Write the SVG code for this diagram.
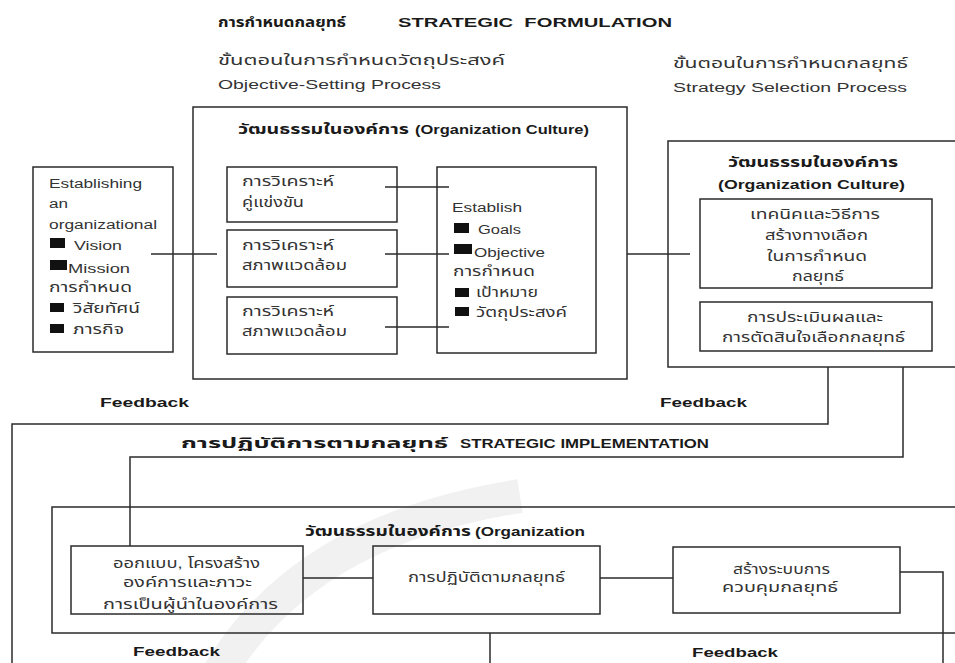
<svg xmlns="http://www.w3.org/2000/svg" width="955" height="663" viewBox="0 0 955 663">
<style>
.bx{fill:none;stroke:#2b2b2b;stroke-width:1.5}
.ln{fill:none;stroke:#2b2b2b;stroke-width:1.5}
.sq{fill:#111}
.t{font-family:"Liberation Sans","Noto Sans Thai","Noto Sans","DejaVu Sans",sans-serif;font-size:13.5px;fill:#333}
.l{font-size:12.5px}
.b{font-weight:bold;fill:#1a1a1a}
.wm{fill:none;stroke:#f1f1f1;stroke-width:34}
</style>
<rect width="955" height="663" fill="#fff"/>
<path class="wm" d="M215 680 Q 300 530 520 496"/>

<g id="headings">
<text class="t b" x="218" y="27" textLength="128" lengthAdjust="spacingAndGlyphs">การกำหนดกลยุทธ์</text>
<text class="t b l" x="398" y="27" textLength="274" lengthAdjust="spacingAndGlyphs" xml:space="preserve">STRATEGIC  FORMULATION</text>
<text class="t" x="218" y="65" textLength="287" lengthAdjust="spacingAndGlyphs">ขั้นตอนในการกำหนดวัตถุประสงค์</text>
<text class="t l" x="218" y="89" textLength="223" lengthAdjust="spacingAndGlyphs">Objective-Setting Process</text>
<text class="t" x="673" y="68" textLength="235" lengthAdjust="spacingAndGlyphs">ขั้นตอนในการกำหนดกลยุทธ์</text>
<text class="t l" x="673" y="92" textLength="234" lengthAdjust="spacingAndGlyphs">Strategy Selection Process</text>
</g>

<g id="vision-box">
<rect class="bx" x="33" y="167" width="140" height="185"/>
<text class="t l" x="49" y="187.5" textLength="93" lengthAdjust="spacingAndGlyphs">Establishing</text>
<text class="t l" x="49" y="208" textLength="19" lengthAdjust="spacingAndGlyphs">an</text>
<text class="t l" x="49" y="229" textLength="108" lengthAdjust="spacingAndGlyphs">organizational</text>
<rect class="sq" x="50" y="238" width="15" height="10"/>
<text class="t l" x="74" y="250" textLength="48" lengthAdjust="spacingAndGlyphs">Vision</text>
<rect class="sq" x="50" y="260" width="17" height="10"/>
<text class="t l" x="68" y="273" textLength="62" lengthAdjust="spacingAndGlyphs">Mission</text>
<text class="t" x="49" y="292" textLength="83" lengthAdjust="spacingAndGlyphs">การกำหนด</text>
<rect class="sq" x="50" y="303" width="14" height="9"/>
<text class="t" x="73" y="313" textLength="67" lengthAdjust="spacingAndGlyphs">วิสัยทัศน์</text>
<rect class="sq" x="50" y="324" width="14" height="9"/>
<text class="t" x="73" y="334" textLength="51" lengthAdjust="spacingAndGlyphs">ภารกิจ</text>
</g>

<g id="objective-culture">
<rect class="bx" x="193" y="107" width="434" height="272"/>
<text class="t b" x="238" y="134" textLength="171" lengthAdjust="spacingAndGlyphs">วัฒนธรรมในองค์การ</text>
<text class="t b l" x="415" y="134" textLength="174" lengthAdjust="spacingAndGlyphs">(Organization Culture)</text>
</g>

<g id="competitor-analysis">
<rect class="bx" x="227" y="167" width="170" height="55"/>
<text class="t" x="242" y="186" textLength="92" lengthAdjust="spacingAndGlyphs">การวิเคราะห์</text>
<text class="t" x="242" y="207" textLength="62" lengthAdjust="spacingAndGlyphs">คู่แข่งขัน</text>
</g>
<g id="environment-analysis-1">
<rect class="bx" x="227" y="230" width="170" height="57"/>
<text class="t" x="242" y="250" textLength="92" lengthAdjust="spacingAndGlyphs">การวิเคราะห์</text>
<text class="t" x="242" y="270" textLength="105" lengthAdjust="spacingAndGlyphs">สภาพแวดล้อม</text>
</g>
<g id="environment-analysis-2">
<rect class="bx" x="227" y="297" width="170" height="57"/>
<text class="t" x="242" y="316" textLength="92" lengthAdjust="spacingAndGlyphs">การวิเคราะห์</text>
<text class="t" x="242" y="336" textLength="105" lengthAdjust="spacingAndGlyphs">สภาพแวดล้อม</text>
</g>

<g id="establish-goals">
<rect class="bx" x="437" y="167" width="159" height="186"/>
<text class="t l" x="452" y="212" textLength="70" lengthAdjust="spacingAndGlyphs">Establish</text>
<rect class="sq" x="454" y="223" width="15" height="10"/>
<text class="t l" x="478" y="234" textLength="43" lengthAdjust="spacingAndGlyphs">Goals</text>
<rect class="sq" x="454" y="244" width="18" height="10"/>
<text class="t l" x="474" y="257" textLength="71" lengthAdjust="spacingAndGlyphs">Objective</text>
<text class="t" x="453" y="276" textLength="82" lengthAdjust="spacingAndGlyphs">การกำหนด</text>
<rect class="sq" x="455" y="288" width="14" height="9"/>
<text class="t" x="476" y="297" textLength="62" lengthAdjust="spacingAndGlyphs">เป้าหมาย</text>
<rect class="sq" x="455" y="307" width="14" height="9"/>
<text class="t" x="476" y="317" textLength="91" lengthAdjust="spacingAndGlyphs">วัตถุประสงค์</text>
</g>

<g id="strategy-culture">
<rect class="bx" x="668" y="141" width="300" height="226"/>
<text class="t b" x="728" y="167" textLength="170" lengthAdjust="spacingAndGlyphs">วัฒนธรรมในองค์การ</text>
<text class="t b l" x="718" y="189" textLength="187" lengthAdjust="spacingAndGlyphs">(Organization Culture)</text>
</g>
<g id="alternatives">
<rect class="bx" x="700" y="199" width="232" height="89"/>
<text class="t" x="750" y="219" textLength="130" lengthAdjust="spacingAndGlyphs">เทคนิคและวิธีการ</text>
<text class="t" x="765" y="240" textLength="103" lengthAdjust="spacingAndGlyphs">สร้างทางเลือก</text>
<text class="t" x="767" y="261" textLength="100" lengthAdjust="spacingAndGlyphs">ในการกำหนด</text>
<text class="t" x="792" y="281" textLength="52" lengthAdjust="spacingAndGlyphs">กลยุทธ์</text>
</g>
<g id="evaluation">
<rect class="bx" x="700" y="302" width="232" height="49"/>
<text class="t" x="747" y="322" textLength="136" lengthAdjust="spacingAndGlyphs">การประเมินผลและ</text>
<text class="t" x="722" y="342" textLength="183" lengthAdjust="spacingAndGlyphs">การตัดสินใจเลือกกลยุทธ์</text>
</g>

<g id="feedback-labels">
<text class="t b l" x="100" y="407" textLength="89" lengthAdjust="spacingAndGlyphs">Feedback</text>
<text class="t b l" x="660" y="407" textLength="87" lengthAdjust="spacingAndGlyphs">Feedback</text>
<text class="t b l" x="133" y="656" textLength="87" lengthAdjust="spacingAndGlyphs">Feedback</text>
<text class="t b l" x="692" y="657" textLength="86" lengthAdjust="spacingAndGlyphs">Feedback</text>
</g>

<g id="implementation-heading">
<text class="t b" x="181" y="448" textLength="267" lengthAdjust="spacingAndGlyphs">การปฏิบัติการตามกลยุทธ์</text>
<text class="t b l" x="460" y="448" textLength="249" lengthAdjust="spacingAndGlyphs">STRATEGIC IMPLEMENTATION</text>
</g>

<g id="implementation-culture">
<rect class="bx" x="52" y="507" width="910" height="126"/>
<text class="t b" x="305" y="536" textLength="166" lengthAdjust="spacingAndGlyphs">วัฒนธรรมในองค์การ</text>
<text class="t b l" x="475" y="536" textLength="110" lengthAdjust="spacingAndGlyphs">(Organization</text>
</g>
<g id="structure-leadership">
<rect class="bx" x="71" y="546" width="232" height="68"/>
<text class="t" x="113" y="568" textLength="147" lengthAdjust="spacingAndGlyphs">ออกแบบ, โครงสร้าง</text>
<text class="t" x="123" y="587" textLength="129" lengthAdjust="spacingAndGlyphs">องค์การและภาวะ</text>
<text class="t" x="103" y="609" textLength="175" lengthAdjust="spacingAndGlyphs">การเป็นผู้นำในองค์การ</text>
</g>
<g id="implement">
<rect class="bx" x="373" y="546" width="227" height="68"/>
<text class="t" x="408" y="582" textLength="157" lengthAdjust="spacingAndGlyphs">การปฏิบัติตามกลยุทธ์</text>
</g>
<g id="control">
<rect class="bx" x="673" y="547" width="227" height="66"/>
<text class="t" x="733" y="574" textLength="97" lengthAdjust="spacingAndGlyphs">สร้างระบบการ</text>
<text class="t" x="722" y="592" textLength="116" lengthAdjust="spacingAndGlyphs">ควบคุมกลยุทธ์</text>
</g>

<g id="connectors">
<path class="ln" d="M151 254H217"/>
<path class="ln" d="M385 187H449M385 254H449M385 327H449"/>
<path class="ln" d="M627 254H690"/>
<path class="ln" d="M828 367V424H12V663"/>
<path class="ln" d="M903 367V457H130V546"/>
<path class="ln" d="M303 578H373M600 578H673"/>
<path class="ln" d="M900 572H943V663"/>
<path class="ln" d="M490 633V663"/>
</g>
</svg>
